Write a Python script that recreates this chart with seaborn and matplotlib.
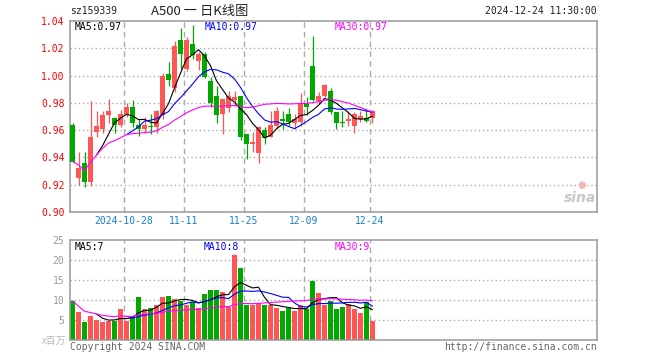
import numpy as np
import pandas as pd
import matplotlib
matplotlib.use("Agg")
import matplotlib.pyplot as plt
import matplotlib.transforms as mtransforms
import seaborn as sns

# ---------------- data ----------------
opens = [0.964, 0.925, 0.936, 0.922, 0.959, 0.961, 0.971, 0.969, 0.964, 0.972,
         0.977, 0.964, 0.961, 0.963, 0.962, 0.971, 1.001, 0.991, 1.026, 1.005,
         1.023, 1.011, 1.016, 0.996, 0.985, 0.972, 0.976, 0.982, 0.985, 0.957,
         0.950, 0.943, 0.960, 0.955, 0.963, 0.968, 0.972, 0.965, 0.966, 0.979,
         1.007, 0.981, 0.985, 0.989, 0.973, 0.966, 0.967, 0.963, 0.968, 0.969,
         0.969]
closes = [0.937, 0.932, 0.922, 0.955, 0.963, 0.971, 0.974, 0.964, 0.972, 0.977,
          0.965, 0.961, 0.964, 0.962, 0.974, 1.000, 0.997, 1.022, 1.016, 1.026,
          1.015, 1.016, 0.999, 0.980, 0.971, 0.983, 0.985, 0.984, 0.955, 0.950,
          0.951, 0.962, 0.954, 0.964, 0.974, 0.967, 0.966, 0.968, 0.979, 0.977,
          0.982, 0.985, 0.993, 0.973, 0.965, 0.965, 0.968, 0.972, 0.970, 0.967,
          0.974]
highs = [0.965, 0.944, 0.944, 0.981, 0.974, 0.974, 0.983, 0.970, 0.975, 0.980,
         0.982, 0.968, 0.970, 0.972, 0.975, 1.002, 1.010, 1.025, 1.035, 1.028,
         1.037, 1.017, 1.017, 0.999, 0.992, 0.983, 0.989, 0.989, 0.985, 0.957,
         0.959, 0.963, 0.962, 0.974, 0.977, 0.974, 0.976, 0.972, 0.987, 0.984,
         1.029, 0.988, 0.994, 0.991, 0.973, 0.974, 0.974, 0.973, 0.974, 0.976,
         0.975]
lows = [0.937, 0.920, 0.918, 0.919, 0.955, 0.958, 0.965, 0.958, 0.962, 0.970,
        0.962, 0.956, 0.958, 0.957, 0.958, 0.968, 0.992, 0.988, 1.005, 1.003,
        1.012, 1.004, 0.998, 0.977, 0.965, 0.957, 0.973, 0.978, 0.953, 0.939,
        0.944, 0.936, 0.950, 0.955, 0.961, 0.961, 0.963, 0.961, 0.963, 0.971,
        0.981, 0.979, 0.984, 0.972, 0.961, 0.962, 0.963, 0.958, 0.966, 0.966,
        0.965]
volumes = [9.8, 7.1, 4.6, 6.0, 5.0, 4.5, 4.8, 4.8, 7.8, 4.8,
           5.8, 10.8, 7.7, 8.0, 8.7, 10.8, 11.0, 10.3, 9.8, 8.8,
           9.6, 8.0, 11.5, 12.5, 12.5, 12.0, 8.3, 21.3, 17.9, 8.8,
           8.8, 9.2, 8.7, 8.7, 8.0, 7.3, 8.0, 7.3, 8.7, 7.7,
           14.8, 11.8, 8.8, 9.8, 7.75, 8.3, 9.0, 7.75, 6.8, 9.6,
           4.8]
date_tick_idx = [9, 19, 29, 39, 50]
date_tick_labels = ["2024-10-28", "11-11", "11-25", "12-09", "12-24"]
price_ticks = [0.90, 0.92, 0.94, 0.96, 0.98, 1.00, 1.02, 1.04]
volume_ticks = [5, 10, 15, 20, 25]

# ---------------- derived ----------------
df = pd.DataFrame({"open": opens, "close": closes, "high": highs,
                   "low": lows, "vol": volumes})
df["idx"] = np.arange(len(df))
df["ma5"] = df["close"].rolling(5).mean()
df["ma10"] = df["close"].rolling(10).mean()
df["ma30"] = df["close"].rolling(30, min_periods=1).mean()
df["vma5"] = df["vol"].rolling(5).mean()
df["vma10"] = df["vol"].rolling(10).mean()
df["vma30"] = df["vol"].rolling(30, min_periods=1).mean()

RED = "#ff5555"
GREEN = "#00a800"
GRID = "#aaaaaa"
FRAME = "#999999"
MONO = "DejaVu Sans Mono"

sns.set_style("white")
plt.rcParams["font.family"] = ["DejaVu Sans Mono", "Noto Sans CJK SC"]

W, H = 660, 360
fig = plt.figure(figsize=(6.6, 3.6), dpi=100)
ax1 = fig.add_axes([70 / W, 1 - 212 / H, 527 / W, 191 / H])
ax2 = fig.add_axes([70 / W, 1 - 340 / H, 527 / W, 100 / H])

xlim = (-0.42, 87.42)
up = df["close"] >= df["open"]
colors = [RED if u else GREEN for u in up]

# ---------------- price panel ----------------
for yv in price_ticks[1:-1]:
    ax1.axhline(yv, color=GRID, lw=1, ls=(0, (1, 2)), zorder=0)
for i in date_tick_idx:
    ax1.axvline(i - 0.42, color=GRID, lw=1, ls=(0, (4, 3)), zorder=0)
    ax2.axvline(i - 0.42, color=GRID, lw=1, ls=(0, (4, 3)), zorder=0)

ax1.vlines(df["idx"], df["low"], df["high"], colors=colors, lw=0.9, zorder=2)
body_bottom = np.minimum(df["open"], df["close"])
body_h = np.maximum(np.abs(df["close"] - df["open"]), 0.0008)
ax1.bar(df["idx"], body_h, bottom=body_bottom, width=0.83, color=colors,
        linewidth=0, zorder=3)

sns.lineplot(data=df, x="idx", y="ma5", ax=ax1, color="black", lw=0.8, zorder=4)
sns.lineplot(data=df, x="idx", y="ma10", ax=ax1, color="#0000ff", lw=0.8, zorder=4)
sns.lineplot(data=df, x="idx", y="ma30", ax=ax1, color="#ff00ff", lw=0.8, zorder=4)

ax1.set_xlim(*xlim)
ax1.set_ylim(0.90, 1.04)
ax1.set_yticks(price_ticks)
ax1.set_yticklabels([f"{t:.2f}" for t in price_ticks])
ax1.tick_params(axis="y", length=0, pad=4, labelcolor="#ff0000", labelsize=7)
ax1.set_xticks([])
ax1.set_xlabel("")
ax1.set_ylabel("")
for s in ax1.spines.values():
    s.set_color(FRAME)
    s.set_linewidth(1.1)

ax1.text(5 / 527, 1 - 6 / 191, f"MA5:{df['ma5'].iloc[-1]:.2f}", transform=ax1.transAxes,
         ha="left", va="center", fontsize=7, color="black", family=MONO)
ax1.text(135 / 527, 1 - 6 / 191, f"MA10:{df['ma10'].iloc[-1]:.2f}", transform=ax1.transAxes,
         ha="left", va="center", fontsize=7, color="#0000ff", family=MONO)
ax1.text(265 / 527, 1 - 6 / 191, f"MA30:{df['ma30'].iloc[-1]:.2f}", transform=ax1.transAxes,
         ha="left", va="center", fontsize=7, color="#ff00ff", family=MONO)

# date labels
tr = mtransforms.blended_transform_factory(ax1.transData, fig.transFigure)
for i, lab in zip(date_tick_idx, date_tick_labels):
    ax1.text(i - 0.42, 1 - 221 / H, lab, transform=tr, ha="center", va="center",
             fontsize=7, color="#1480d0", family=MONO)

# sina watermark
fig.text(580 / W, 1 - 198 / H, "sina", ha="center", va="center", fontsize=10,
         color="#c8c8c8", style="italic", weight="bold", family="DejaVu Sans")
fig.text(582 / W, 1 - 185 / H, "\u25cf", ha="center", va="center", fontsize=7,
         color="#f4b8b8", family="DejaVu Sans")

# ---------------- volume panel ----------------
for yv in volume_ticks[:-1]:
    ax2.axhline(yv, color=GRID, lw=1, ls=(0, (1, 2)), zorder=0)
ax2.bar(df["idx"], df["vol"], width=0.83, color=colors, linewidth=0, zorder=2)
sns.lineplot(data=df, x="idx", y="vma5", ax=ax2, color="black", lw=0.8, zorder=4)
sns.lineplot(data=df, x="idx", y="vma10", ax=ax2, color="#0000ff", lw=0.8, zorder=4)
sns.lineplot(data=df, x="idx", y="vma30", ax=ax2, color="#ff00ff", lw=0.8, zorder=4)
ax2.set_xlim(*xlim)
ax2.set_ylim(0, 25)
ax2.set_yticks(volume_ticks)
ax2.set_yticklabels([str(t) for t in volume_ticks])
ax2.tick_params(axis="y", length=0, pad=4, labelcolor="#999999", labelsize=7)
ax2.set_xticks([])
ax2.set_xlabel("")
ax2.set_ylabel("")
for s in ax2.spines.values():
    s.set_color(FRAME)
    s.set_linewidth(1.1)

ax2.text(5 / 527, 1 - 7 / 100, f"MA5:{int(df['vma5'].iloc[-1])}", transform=ax2.transAxes,
         ha="left", va="center", fontsize=7, color="black", family=MONO)
ax2.text(134 / 527, 1 - 7 / 100, f"MA10:{int(df['vma10'].iloc[-1])}", transform=ax2.transAxes,
         ha="left", va="center", fontsize=7, color="#0000ff", family=MONO)
ax2.text(265 / 527, 1 - 7 / 100, f"MA30:{int(df['vma30'].iloc[-1])}", transform=ax2.transAxes,
         ha="left", va="center", fontsize=7, color="#ff00ff", family=MONO)

# ---------------- header / footer texts ----------------
fig.text(70 / W, 1 - 11 / H, "sz159339", ha="left", va="center", fontsize=7,
         color="#222222", family=MONO)
fig.text(151 / W, 1 - 11 / H, "A500 一 日K线图", ha="left", va="center", fontsize=9.5,
         color="#222222", family=["Noto Sans CJK SC", "DejaVu Sans"])
fig.text(597 / W, 1 - 11 / H, "2024-12-24 11:30:00", ha="right", va="center",
         fontsize=7, color="#222222", family=MONO)
fig.text(66 / W, 1 - 341 / H, "x百万", ha="right", va="center", fontsize=7,
         color="#bbbbbb", family=["Noto Sans CJK SC", "DejaVu Sans"])
fig.text(70 / W, 1 - 347 / H, "Copyright 2024 SINA.COM", ha="left", va="center",
         fontsize=7, color="#666666", family=MONO)
fig.text(597 / W, 1 - 347 / H, "http://finance.sina.com.cn", ha="right", va="center",
         fontsize=7, color="#666666", family=MONO)

fig.savefig("out.png", dpi=100, facecolor="white")
